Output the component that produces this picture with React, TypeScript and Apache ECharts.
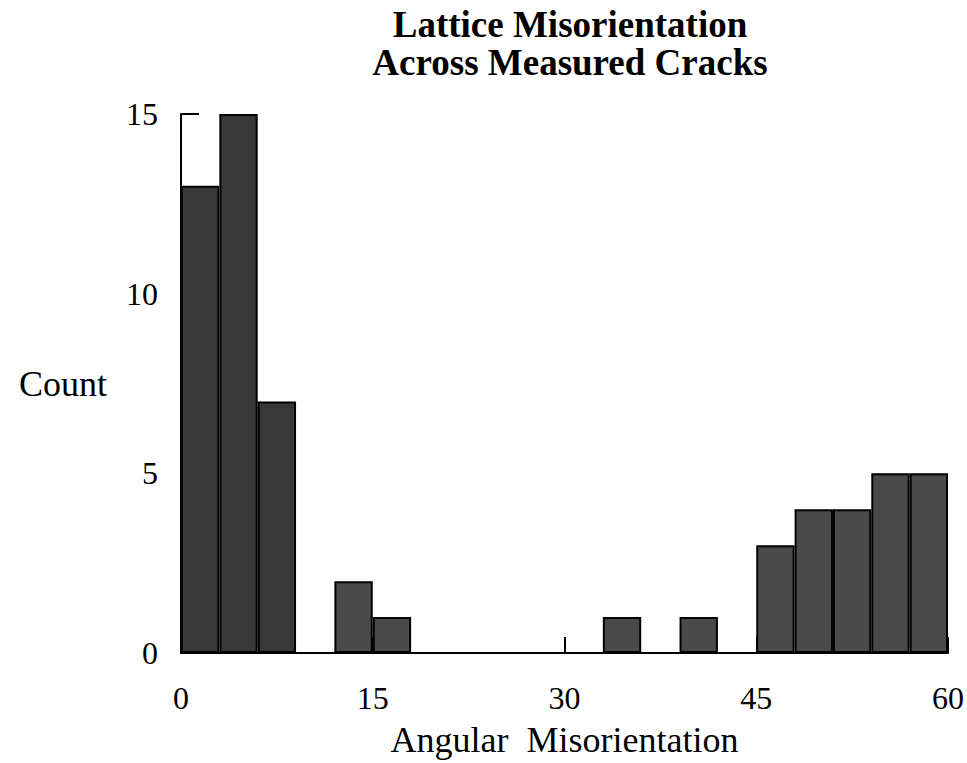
import React, { useEffect, useRef } from "react";
import * as echarts from "echarts";

const binLabels = [
  "0-3", "3-6", "6-9", "9-12", "12-15", "15-18", "18-21", "21-24", "24-27", "27-30",
  "30-33", "33-36", "36-39", "39-42", "42-45", "45-48", "48-51", "51-54", "54-57", "57-60",
];
const counts = [13, 15, 7, 0, 2, 1, 0, 0, 0, 0, 0, 1, 0, 1, 0, 3, 4, 4, 5, 5];
const xMin = 0;
const xMax = 60;
const xStep = 15;
const yMin = 0;
const yMax = 15;
const yStep = 5;

const FONT = "Liberation Serif";

export default function App() {
  const ref = useRef<HTMLDivElement>(null);
  useEffect(() => {
    document.body.style.margin = "0";
    if (!ref.current) return;
    const chart = echarts.init(ref.current, undefined, { renderer: "svg" });
    chart.setOption({
      animation: false,
      backgroundColor: "#ffffff",
      title: {
        text: "Lattice Misorientation\nAcross Measured Cracks",
        left: 565,
        top: 0,
        textAlign: "center",
        textStyle: {
          fontFamily: FONT,
          fontWeight: "bold",
          fontSize: 37,
          lineHeight: 38,
          color: "#000",
        },
      },
      grid: { left: 181, right: 12, top: 114, bottom: 109, containLabel: false },
      xAxis: [
        {
          type: "category",
          data: binLabels,
          show: false,
          boundaryGap: true,
        },
        {
          type: "value",
          min: xMin,
          max: xMax,
          interval: xStep,
          position: "bottom",
          name: "Angular  Misorientation",
          nameLocation: "middle",
          nameGap: 69,
          nameTextStyle: { fontFamily: FONT, fontSize: 36, color: "#000" },
          axisLine: { show: true, lineStyle: { color: "#000", width: 2 } },
          axisTick: { show: true, inside: true, length: 16, lineStyle: { color: "#000", width: 2 } },
          axisLabel: { fontFamily: FONT, fontSize: 32, color: "#000", margin: 29 },
          splitLine: { show: false },
        },
      ],
      yAxis: {
        type: "value",
        min: yMin,
        max: yMax,
        interval: yStep,
        name: "Count",
        nameLocation: "middle",
        nameRotate: 0,
        nameGap: 74,
        nameTextStyle: { fontFamily: FONT, fontSize: 36, color: "#000" },
        axisLine: { show: true, lineStyle: { color: "#000", width: 2 } },
        axisTick: { show: true, inside: true, length: 18, lineStyle: { color: "#000", width: 2 } },
        axisLabel: { fontFamily: FONT, fontSize: 32, color: "#000", margin: 23 },
        splitLine: { show: false },
      },
      series: [
        {
          type: "bar",
          xAxisIndex: 0,
          data: counts,
          barCategoryGap: "0%",
          itemStyle: {
            color: (p: any) => (p.dataIndex < 3 ? "#383838" : "#4a4a4a"),
            borderColor: "#000",
            borderWidth: 2,
          },
        },
      ],
    });
    return () => chart.dispose();
  }, []);
  return <div ref={ref} style={{ width: 967, height: 763 }} />;
}
